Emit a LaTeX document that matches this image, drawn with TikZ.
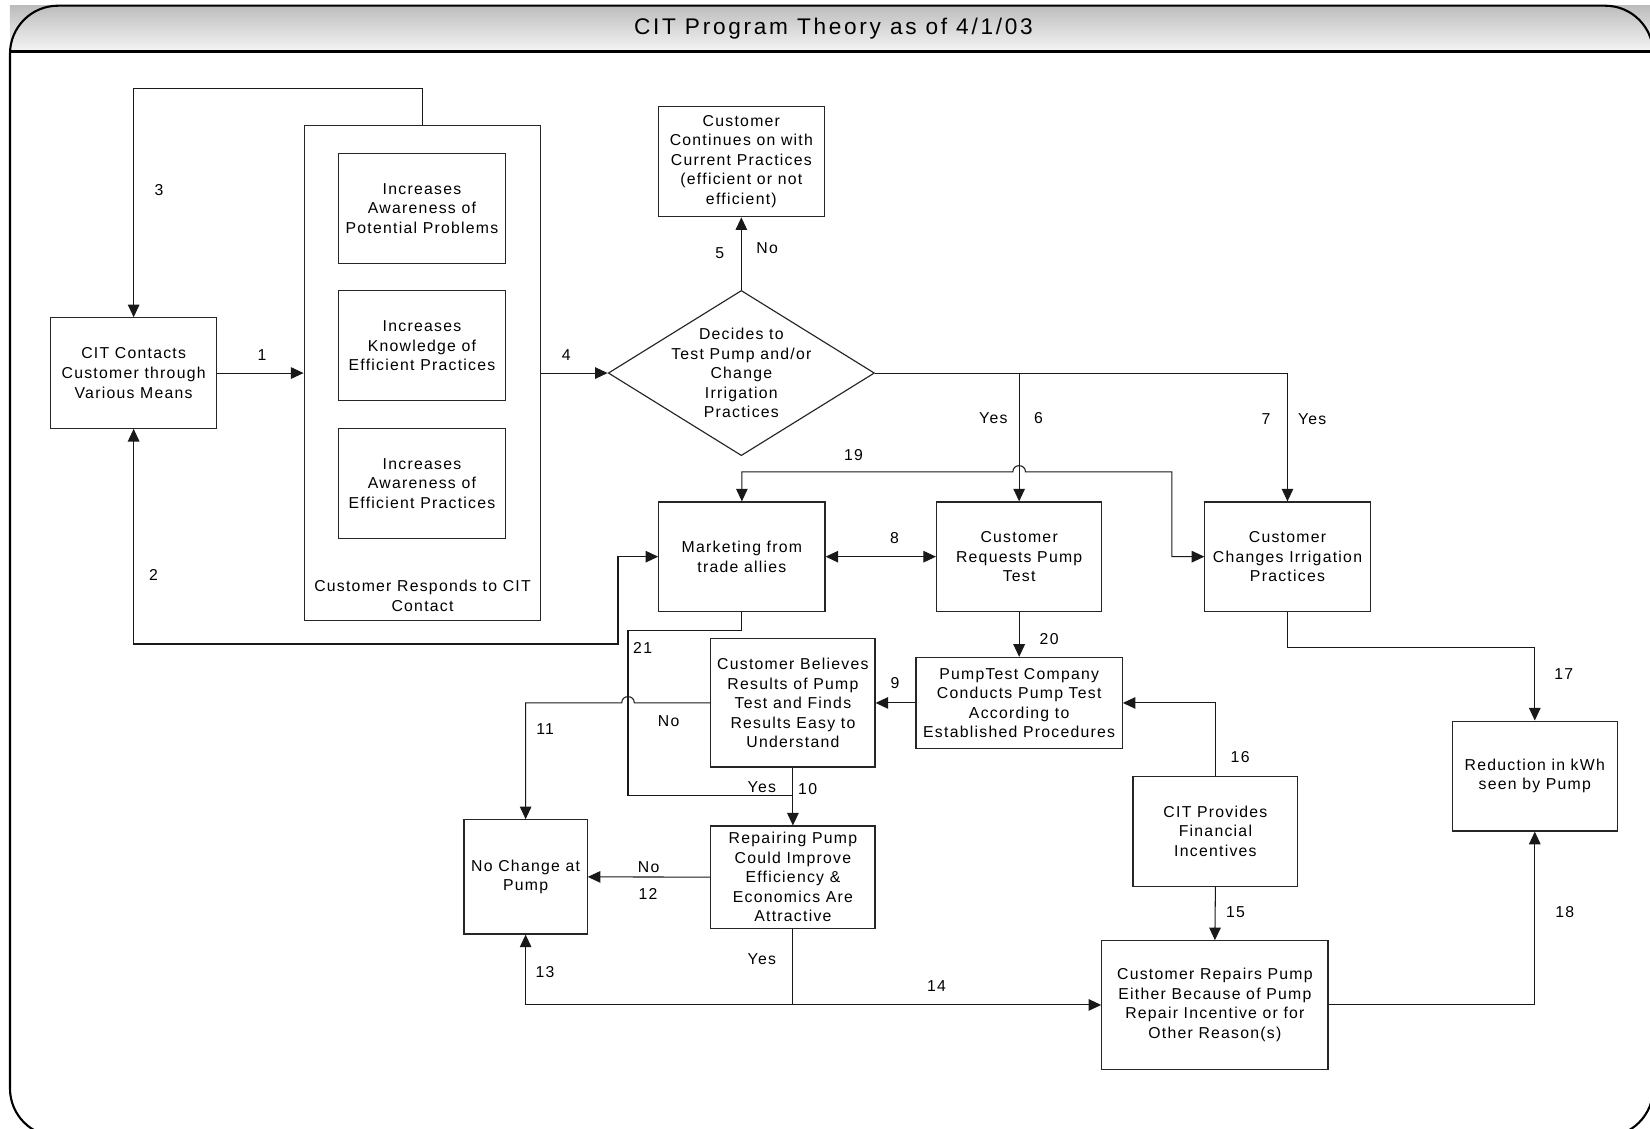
\documentclass[tikz,border=0pt]{standalone}
\usepackage{fontspec}
\setmainfont[LetterSpace=8]{Liberation Sans}
\newfontfamily\titlefont[LetterSpace=12]{Liberation Sans}
\usetikzlibrary{arrows.meta,shapes.geometric,calc}
\newcommand{\bodyfs}{\fontsize{15}{18.6}\selectfont}
\begin{document}
\begin{tikzpicture}[x=1pt,y=-1pt,
  box/.style={draw=black!85, line width=1.1pt, align=center, inner sep=0pt, font=\bodyfs},
  lbl/.style={inner sep=0pt, font=\bodyfs, align=center},
  conn/.style={line width=1pt, draw=black!90},
  arr/.style={conn, -{Triangle[length=12pt,width=11pt]}},
  arrr/.style={conn, {Triangle[length=12pt,width=11pt]}-{Triangle[length=12pt,width=11pt]}}
]
\useasboundingbox (0,0) rectangle (1568,1072);
% frame and title bar
\shade[top color=black!26, bottom color=black!4] (9.5,5.4) rectangle (1568,49);
\draw[line width=2pt, rounded corners=45.6pt] (9.5,5.4) rectangle (1571,1080);
\draw[line width=2.2pt] (9.5,49) -- (1568,49);
\node[font=\titlefont\fontsize{21.5}{25}\selectfont, inner sep=0pt] (title) at (792,27) {CIT Program Theory as of 4/1/03};

% nodes
\node[box, minimum width=158pt, minimum height=105pt] (cit) at (127,354.5) {CIT Contacts\\Customer through\\Various Means};
\node[box, minimum width=225pt, minimum height=471pt] (resp) at (401.5,354.5) {};
\node[lbl] (resplbl) at (401.5,566.5) {Customer Responds to CIT\\Contact};
\node[box, minimum width=158pt, minimum height=104.5pt] (in1) at (401,198) {Increases\\Awareness of\\Potential Problems};
\node[box, minimum width=158pt, minimum height=104.5pt] (in2) at (401,328.5) {Increases\\Knowledge of\\Efficient Practices};
\node[box, minimum width=158pt, minimum height=104.5pt] (in3) at (401,459.5) {Increases\\Awareness of\\Efficient Practices};
\node[box, minimum width=158pt, minimum height=105pt] (cont) at (704.5,153.5) {Customer\\Continues on with\\Current Practices\\(efficient or not\\efficient)};
\node[draw=black!85, line width=1.1pt, diamond, inner sep=0pt, minimum width=253pt, minimum height=157pt] (dec) at (704.5,354.5) {};
\node[lbl] (dect) at (dec) {Decides to\\Test Pump and/or\\Change\\Irrigation\\Practices};
\node[box, minimum width=158pt, minimum height=104pt] (mkt) at (705,529) {Marketing from\\trade allies};
\node[box, minimum width=157pt, minimum height=104pt] (req) at (968.5,529) {Customer\\Requests Pump\\Test};
\node[box, minimum width=157pt, minimum height=104pt] (chg) at (1223.5,529) {Customer\\Changes Irrigation\\Practices};
\node[box, minimum width=196pt, minimum height=86.5pt] (pt) at (968.5,668) {PumpTest Company\\Conducts Pump Test\\According to\\Established Procedures};
\node[box, minimum width=156pt, minimum height=121.7pt] (cb) at (753.5,668) {Customer Believes\\Results of Pump\\Test and Finds\\Results Easy to\\Understand};
\node[box, minimum width=117pt, minimum height=108.6pt] (noch) at (499.5,833.3) {No Change at\\Pump};
\node[box, minimum width=156pt, minimum height=97pt] (rep) at (753.5,833.5) {Repairing Pump\\Could Improve\\Efficiency \&\\Economics Are\\Attractive};
\node[box, minimum width=156.5pt, minimum height=104.5pt] (cprov) at (1155,790) {CIT Provides\\Financial\\Incentives};
\node[box, minimum width=215pt, minimum height=122pt] (crep) at (1154.5,955) {Customer Repairs Pump\\Either Because of Pump\\Repair Incentive or for\\Other Reason(s)};
\node[box, minimum width=157pt, minimum height=104.5pt] (red) at (1458.5,737.5) {Reduction in kWh\\seen by Pump};

% connectors
\draw[arr] (cit.east) -- (resp.west);
\draw[arrr] (cit.south) |- (587.3,612) |- (mkt.west);
\draw[arr] (resp.north) -- (401.5,84) -| (cit.north);
\draw[arr] (resp.east) -- (dec.west);
\draw[arr] (dec.north) -- (cont.south);
\draw[arr] (dec.east) -| (req.north);
\draw[arr] (dec.east) -| (chg.north);
\draw[arrr] (mkt.north) |- (962.5,448.5) .. controls (962.5,440.5) and (974.5,440.5) .. (974.5,448.5) -- (1113.6,448.5) |- (chg.west);
\draw[arrr] (mkt.east) -- (req.west);
\draw[arr] (req.south) -- (pt.north);
\draw[arr] (pt.west) -- (cb.east);
\draw[arr] (cprov.north) |- (pt.east);
\draw[arr] (cprov.south) -- (crep.north);
\draw[arr] (chg.south) -- (1223.5,615.5) -| (red.north);
\draw[arr] (crep.east) -| (red.south);
\coordinate (j21) at (753.5,756.4);
\draw[conn] (mkt.south) |- (596.8,599.6) |- (j21);
\draw[arr] (cb.south) -- (rep.north);
\draw[arr] (cb.west) -- (602.8,668) .. controls (602.8,660) and (590.8,660) .. (590.8,668) -| (noch.north);
\draw[arr] (rep.west) -- (noch.east);
\coordinate (j13) at (rep.south |- crep.west);
\draw[conn] (rep.south) -- (j13);
\draw[arr] (j13) -| (noch.south);
\draw[arr] (j13) -- (crep.west);

% labels
\node[lbl] (l1) at (249,337) {1};
\node[lbl] (l2) at (146,546) {2};
\node[lbl] (l3) at (151,181) {3};
\node[lbl] (l4) at (538,337) {4};
\node[lbl] (l5) at (684,241) {5};
\node[lbl] (l5n) at (729,236) {No};
\node[lbl] (l6y) at (944,397) {Yes};
\node[lbl] (l6) at (987,397) {6};
\node[lbl] (l7) at (1203,398.5) {7};
\node[lbl] (l7y) at (1247,398.5) {Yes};
\node[lbl] (l19) at (811,432) {19};
\node[lbl] (l8) at (850,511) {8};
\node[lbl] (l20) at (997,607) {20};
\node[lbl] (l9) at (850.5,649.4) {9};
\node[lbl] (l16) at (1178.5,719.7) {16};
\node[lbl] (l15) at (1174,867) {15};
\node[lbl] (l17) at (1486,640.8) {17};
\node[lbl] (l18) at (1487,867) {18};
\node[lbl] (l21) at (610.7,615.5) {21};
\node[lbl] (l11n) at (635.4,685) {No};
\node[lbl] (l11) at (518,693) {11};
\node[lbl] (l10y) at (724,748) {Yes};
\node[lbl] (l10) at (767.5,750) {10};
\node[lbl] (l12n) at (616.4,824.2) {No};
\node[lbl] (l12) at (615.8,849.6) {12};
\node[lbl] (l14y) at (724,911) {Yes};
\node[lbl] (l13) at (518,923.7) {13};
\node[lbl] (l14) at (890,937) {14};
\end{tikzpicture}
\end{document}
